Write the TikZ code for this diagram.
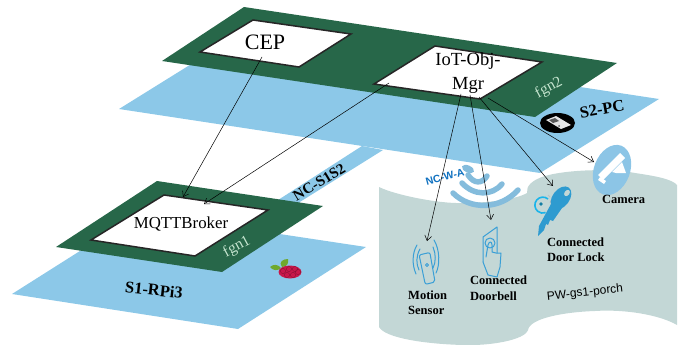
\documentclass[tikz,border=0pt]{standalone}
\usepackage{fontspec}
\setmainfont{Liberation Serif}
\setsansfont{Liberation Sans}
\usetikzlibrary{arrows.meta}
\definecolor{PlaneBlue}{HTML}{8CC8E8}
\definecolor{FognetGreen}{HTML}{276749}
\definecolor{FognetText}{HTML}{C4E4CE}
\definecolor{PortchGrey}{HTML}{C3D7D6}
\definecolor{IconBlue}{HTML}{3A9FD6}
\definecolor{KeyBlue}{HTML}{2E9BD0}
\definecolor{LockCyan}{HTML}{1AB4EA}
\definecolor{WifiBlue}{HTML}{84BCDC}
\definecolor{CamBlue}{HTML}{8CC5E6}
\definecolor{NetBlue}{HTML}{1071C0}
\definecolor{BerryRed}{HTML}{C8174A}
\definecolor{LeafGreen}{HTML}{6FA92E}

\begin{document}
\begin{tikzpicture}[x=1pt,y=-1pt,
  plane/.style={fill=PlaneBlue},
  fognet/.style={fill=FognetGreen},
  devbox/.style={draw=black!85, fill=white, line width=1.5pt, line join=miter},
  devname/.style={inner sep=0pt, align=center},
  fgnlabel/.style={inner sep=0pt, text=FognetText, font=\fontsize{15.5}{17}\selectfont},
  hostlabel/.style={inner sep=0pt, font=\fontsize{16.5}{18}\selectfont\bfseries},
  thinglabel/.style={inner sep=0pt, anchor=west, align=left, font=\fontsize{12.5}{15.5}\selectfont\bfseries},
  devarrow/.style={-{Straight Barb[length=5pt,width=7pt]}, line width=.5pt, black},
  iconline/.style={draw=IconBlue, line width=1pt, line cap=round, line join=round},
  wifiarc/.style={draw=WifiBlue, line width=5.5pt, line cap=round}
]
\useasboundingbox (0,0) rectangle (694,345);

% ----- S2 host plane and the network strip -----
\fill[plane] (119,109) -- (238,35) -- (659,99) -- (540,173) -- cycle;
\fill[plane] (362,146) -- (383,150) -- (295,205) -- (275,202) -- cycle;

% ----- S1 host plane -----
\fill[plane] (12,294) -- (140,213) -- (366,247) -- (238,329) -- cycle;

% ----- Fog nodes -----
\fill[fognet] (244,7) -- (617,63) -- (535,117) -- (162,61) -- cycle;
\fill[fognet] (157,181) -- (323,206) -- (222,272) -- (56,247) -- cycle;

% ----- Device boxes -----
\draw[devbox] (253,20) -- (351,34) -- (299,67) -- (200,52) -- cycle;
\draw[devbox] (435,46) -- (542,62) -- (480,99) -- (374,84) -- cycle;
\draw[devbox] (164,195) -- (268,210) -- (195,256) -- (91,240) -- cycle;

\node[devname, font=\fontsize{22}{24}\selectfont] (cep) at (265,42) {CEP};
\node[devname, font=\fontsize{18.5}{23.5}\selectfont] (iotobj) at (468,73) {IoT-Obj-\\Mgr};
\node[devname, font=\fontsize{16.8}{18}\selectfont] (mqtt) at (181,224) {MQTTBroker};

\node[fgnlabel, rotate=28] (fgnone) at (237,247) {fgn1};
\node[fgnlabel, rotate=28] (fgntwo) at (549,88) {fgn2};
\node[hostlabel, rotate=-6] (sone) at (154,290) {S1-RPi3};
\node[hostlabel, rotate=10] (stwo) at (602,109) {S2-PC};
\node[inner sep=0pt, rotate=31, font=\fontsize{15}{17}\selectfont\bfseries] (ncss) at (319,182) {NC-S1S2};

% ----- Porch area -----
\fill[PortchGrey] (379,187) .. controls (395,195) and (440,204) .. (463,203)
  .. controls (485,203) and (515,200) .. (527,193)
  .. controls (526,186) and (532,180) .. (545,176)
  .. controls (565,170) and (610,168) .. (635,173)
  .. controls (655,176) and (672,179) .. (677,185)
  -- (677,325) .. controls (660,315) and (625,309) .. (595,311)
  .. controls (565,312) and (530,318) .. (528,330)
  .. controls (525,340) and (490,346) .. (463,345)
  .. controls (425,344) and (385,338) .. (379,327) -- cycle;

% ----- Wireless network -----
\draw[wifiarc] (453,193) .. controls (470,210) and (500,210) .. (518,190);
\draw[wifiarc] (462,183) .. controls (474,196) and (492,196) .. (502,184);
\draw[wifiarc] (468,175) .. controls (474,184) and (482,184) .. (487,176);
\fill[WifiBlue, rotate around={-25:(468,169)}] (468,169) ellipse [x radius=6.5pt, y radius=3.5pt];
\node[inner sep=0pt, rotate=15, text=NetBlue, font=\fontsize{10.5}{12}\selectfont\sffamily\bfseries] (ncw) at (445,177) {NC-W-A};

% ----- Host icons -----
\fill[black] (557.5,123) ellipse [x radius=17.5pt, y radius=10pt];
\fill[white!90!black] (546,120) -- (556,116) -- (571,125) -- (561,129) -- cycle;
\fill[black!65] (549,120) -- (555,118) -- (559,121) -- (553,123) -- cycle;
\fill[black!65] (559,126) circle (1pt);

\fill[LeafGreen] (281,268) .. controls (278,264) and (273,264) .. (270,267) .. controls (273,271) and (278,271) .. (281,268) -- cycle;
\fill[LeafGreen] (282,267) .. controls (278,262) and (283,259) .. (288,259) .. controls (289,263) and (287,267) .. (282,267) -- cycle;
\fill[BerryRed] (290,272) ellipse [x radius=11.5pt, y radius=6.5pt];
\foreach \bx/\by in {283/271,289/269,295/269,287/275,293/275,298/272}
  \draw[black!35!BerryRed, line width=.3pt] (\bx,\by) circle (2.6pt);

% ----- Camera -----
\fill[CamBlue, rotate around={69:(612,170)}] (612,170) ellipse [x radius=26pt, y radius=18pt];
\fill[white] (598,175) -- (620,153) -- (625,158) -- (603,180) -- cycle;
\fill[white] (598,180) -- (604,184) -- (606,181) -- (600,177) -- cycle;
\fill[white] (612,172) -- (622,162) -- (626,173) -- (616,173) -- cycle;

% ----- Door lock -----
\draw[LockCyan, line width=1.6pt] (548,199) arc (50:290:8pt);
\fill[LockCyan!70!black] (541,204) circle (1.8pt);
\draw[black!25, dashed, line width=1pt] (548,195) arc (60:-40:6pt);
\fill[KeyBlue, rotate around={53:(561,198)}] (561,198) ellipse [x radius=13pt, y radius=8.5pt];
\fill[KeyBlue] (551,204) -- (562,208) -- (553,221) -- (550,220) -- (548,225) -- (546,224) -- (544,230) -- (538,236) -- (539,226) -- cycle;
\fill[PortchGrey, rotate around={53:(567,193)}] (567,193) ellipse [x radius=3.5pt, y radius=2.5pt];

% ----- Motion sensor -----
\draw[iconline, rotate around={8:(427,268)}, rounded corners=2pt] (421,254) -- (432,253) -- (433,283) -- (423,284) -- cycle;
\draw[iconline] (427,265) circle (1.5pt);
\draw[iconline] (420,249) .. controls (416,256) and (416,264) .. (419,270);
\draw[iconline] (417,245) .. controls (412,253) and (412,265) .. (416,274);
\draw[iconline] (433,247) .. controls (436,254) and (436,262) .. (433,268);
\draw[iconline] (434,240) .. controls (440,250) and (440,265) .. (436,273);

% ----- Doorbell -----
\draw[iconline] (483,262) -- (483,237) -- (497,227) -- (497,253);
\draw[iconline] (490,243) circle (5pt);
\draw[iconline] (486,257) -- (488,245) .. controls (489,241) and (492,241) .. (492,245) -- (492,252)
  -- (496,253) -- (501,253) -- (500,267) -- (497,277) -- (488,275) -- (483,262);

% ----- Thing labels -----
\node[thinglabel] (camlabel) at (602,199) {Camera};
\node[thinglabel] (locklabel) at (547,249.5) {Connected\\Door Lock};
\node[thinglabel] (bellabel) at (470,288) {Connected\\Doorbell};
\node[thinglabel] (motionlabel) at (408,302.5) {Motion\\Sensor};
\node[inner sep=0pt, rotate=6, font=\fontsize{12}{14}\selectfont\sffamily] (porch) at (585,293) {PW-gs1-porch};

% ----- Connector ends -----
\coordinate (cepout) at (262,57);
\coordinate (iotleft) at (389,83);
\coordinate (iotmotion) at (461,94);
\coordinate (iotbell) at (470,95);
\coordinate (iotlock) at (479,97);
\coordinate (iotcam) at (488,98);
\coordinate (mqttcep) at (183,197);
\coordinate (mqttiot) at (204,204);
\coordinate (motion) at (427,241);
\coordinate (bell) at (491,220);
\coordinate (lock) at (553,186);
\coordinate (camera) at (594,162);

% ----- Connectors -----
\draw[devarrow] (cepout) -- (mqttcep);
\draw[devarrow] (iotleft) -- (mqttiot);
\draw[devarrow] (iotmotion) -- (motion);
\draw[devarrow] (iotbell) -- (bell);
\draw[devarrow] (iotlock) -- (lock);
\draw[devarrow] (iotcam) -- (camera);

\end{tikzpicture}
\end{document}
